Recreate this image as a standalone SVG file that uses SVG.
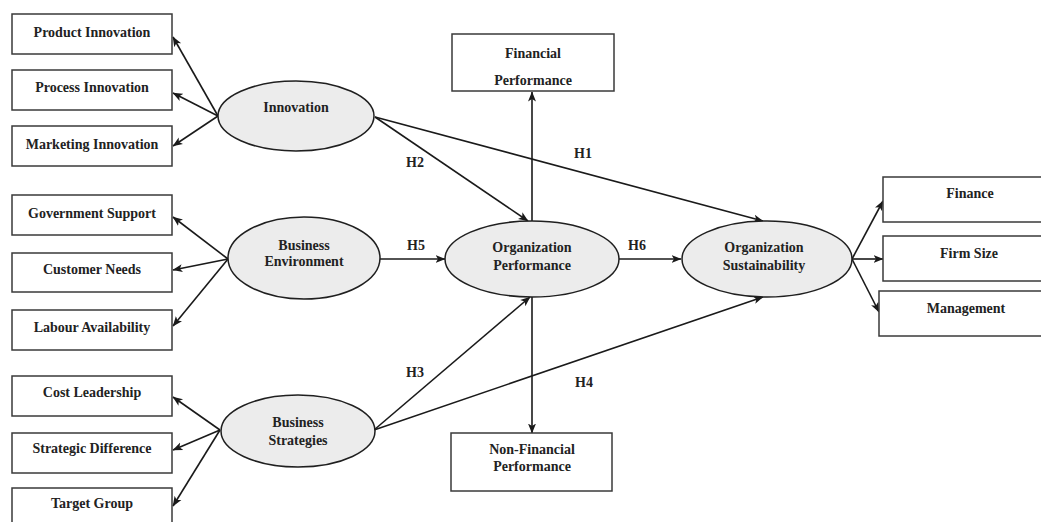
<svg xmlns="http://www.w3.org/2000/svg" width="1041" height="522" viewBox="0 0 1041 522">
  <defs>
    <marker id="arrow" viewBox="0 0 10 10" refX="9.5" refY="5" markerWidth="10" markerHeight="10" markerUnits="userSpaceOnUse" orient="auto">
      <path d="M0,1 L10,5 L0,9 L2.5,5 Z" fill="#1a1a1a"/>
    </marker>
    <style>
      .box { fill: #ffffff; stroke: #3a3a3a; stroke-width: 1.5; }
      .ell { fill: #ececec; stroke: #1f1f1f; stroke-width: 1.5; }
      .lbl { font-family: "Liberation Serif", "Times New Roman", serif; font-weight: bold; font-size: 14px; fill: #222222; text-anchor: middle; }
      .con line { stroke: #1a1a1a; stroke-width: 1.6; marker-end: url(#arrow); }
    </style>
  </defs>
  <rect width="1041" height="522" fill="#ffffff"/>

  <!-- connectors -->
  <g id="connectors" class="con">
    <!-- Innovation indicators -->
    <line x1="218" y1="116" x2="173" y2="37"/>
    <line x1="218" y1="116" x2="173" y2="93"/>
    <line x1="218" y1="116" x2="173" y2="146"/>
    <!-- Business Environment indicators -->
    <line x1="228" y1="259" x2="173" y2="217"/>
    <line x1="228" y1="259" x2="173" y2="270"/>
    <line x1="228" y1="259" x2="173" y2="326"/>
    <!-- Business Strategies indicators -->
    <line x1="220" y1="430" x2="173" y2="397"/>
    <line x1="220" y1="430" x2="173" y2="450"/>
    <line x1="220" y1="430" x2="173" y2="506"/>
    <!-- hypotheses -->
    <line x1="375" y1="117" x2="763" y2="221"/>
    <line x1="375" y1="117" x2="528" y2="221"/>
    <line x1="380" y1="259" x2="445" y2="259"/>
    <line x1="619" y1="259" x2="681" y2="259"/>
    <line x1="374" y1="430" x2="530" y2="297"/>
    <line x1="374" y1="430" x2="763" y2="297"/>
    <!-- performance outcomes -->
    <line x1="532" y1="221" x2="532" y2="92"/>
    <line x1="532" y1="297" x2="532" y2="433"/>
    <!-- sustainability indicators -->
    <line x1="852" y1="259" x2="883" y2="201"/>
    <line x1="852" y1="259" x2="883" y2="259"/>
    <line x1="852" y1="259" x2="879" y2="312"/>
  </g>

  <!-- hypothesis labels -->
  <g id="hypothesis-labels" class="lbl">
    <text x="583" y="158">H1</text>
    <text x="415" y="167">H2</text>
    <text x="416" y="250">H5</text>
    <text x="637" y="250">H6</text>
    <text x="415" y="377">H3</text>
    <text x="584" y="387">H4</text>
  </g>

  <!-- left indicator boxes -->
  <g id="product-innovation"><rect class="box" x="12" y="14" width="160" height="40"/><text class="lbl" x="92" y="37">Product Innovation</text></g>
  <g id="process-innovation"><rect class="box" x="12" y="70" width="160" height="40"/><text class="lbl" x="92" y="92">Process Innovation</text></g>
  <g id="marketing-innovation"><rect class="box" x="12" y="126" width="160" height="40"/><text class="lbl" x="92" y="149">Marketing Innovation</text></g>
  <g id="government-support"><rect class="box" x="12" y="195" width="160" height="40"/><text class="lbl" x="92" y="218">Government Support</text></g>
  <g id="customer-needs"><rect class="box" x="12" y="253" width="160" height="39"/><text class="lbl" x="92" y="274">Customer Needs</text></g>
  <g id="labour-availability"><rect class="box" x="12" y="310" width="160" height="40"/><text class="lbl" x="92" y="332">Labour Availability</text></g>
  <g id="cost-leadership"><rect class="box" x="12" y="376" width="160" height="40"/><text class="lbl" x="92" y="397">Cost Leadership</text></g>
  <g id="strategic-difference"><rect class="box" x="12" y="433" width="160" height="40"/><text class="lbl" x="92" y="453">Strategic Difference</text></g>
  <g id="target-group"><rect class="box" x="12" y="488" width="160" height="45"/><text class="lbl" x="92" y="508">Target Group</text></g>

  <!-- constructs -->
  <g id="innovation"><ellipse class="ell" cx="296" cy="116" rx="78" ry="35"/><text class="lbl" x="296" y="112">Innovation</text></g>
  <g id="business-environment"><ellipse class="ell" cx="304" cy="258" rx="76" ry="41"/><text class="lbl" x="304" y="250">Business</text><text class="lbl" x="304" y="266">Environment</text></g>
  <g id="business-strategies"><ellipse class="ell" cx="298" cy="431" rx="77" ry="36"/><text class="lbl" x="298" y="427">Business</text><text class="lbl" x="298" y="445">Strategies</text></g>
  <g id="organization-performance"><ellipse class="ell" cx="532" cy="259" rx="87" ry="38"/><text class="lbl" x="532" y="252">Organization</text><text class="lbl" x="532" y="270">Performance</text></g>
  <g id="organization-sustainability"><ellipse class="ell" cx="767" cy="259" rx="85" ry="38"/><text class="lbl" x="764" y="252">Organization</text><text class="lbl" x="764" y="270">Sustainability</text></g>

  <!-- performance boxes -->
  <g id="financial-performance"><rect class="box" x="452" y="34" width="162" height="57"/><text class="lbl" x="533" y="58">Financial</text><text class="lbl" x="533" y="85">Performance</text></g>
  <g id="non-financial-performance"><rect class="box" x="451" y="433" width="161" height="58"/><text class="lbl" x="532" y="454">Non-Financial</text><text class="lbl" x="532" y="471">Performance</text></g>

  <!-- right indicator boxes -->
  <g id="finance"><rect class="box" x="883" y="177" width="170" height="45"/><text class="lbl" x="970" y="198">Finance</text></g>
  <g id="firm-size"><rect class="box" x="883" y="236" width="170" height="45"/><text class="lbl" x="969" y="258">Firm Size</text></g>
  <g id="management"><rect class="box" x="879" y="291" width="174" height="45"/><text class="lbl" x="966" y="313">Management</text></g>
</svg>
